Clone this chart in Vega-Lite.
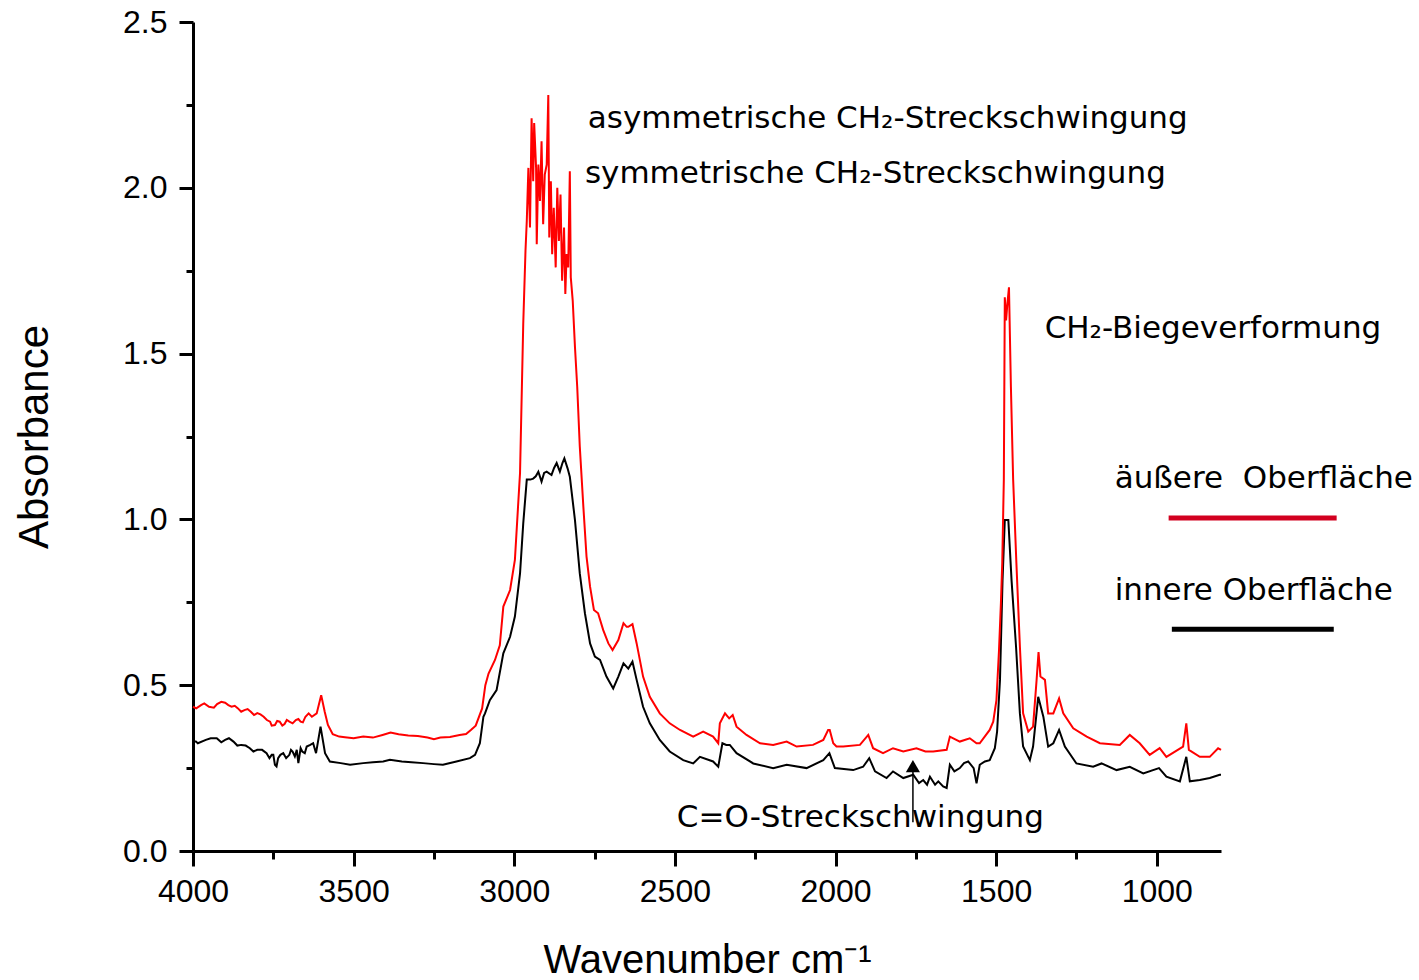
{
  "$schema": "https://vega.github.io/schema/vega-lite/v6.json",
  "autosize": "none",
  "padding": {"left": 193, "top": 22, "right": 198, "bottom": 129},
  "width": 1028,
  "height": 829,
  "background": "white",
  "config": {"view": {"stroke": null}},
  "datasets": {
    "spectra": [
      {"s":"inner","w":4000,"a":0.33},{"s":"inner","w":3991,"a":0.33},{"s":"inner","w":3960,"a":0.335},{"s":"inner","w":3926,"a":0.34},{"s":"inner","w":3900,"a":0.335},{"s":"inner","w":3874,"a":0.33},{"s":"inner","w":3850,"a":0.32},{"s":"inner","w":3823,"a":0.31},{"s":"inner","w":3800,"a":0.305},{"s":"inner","w":3771,"a":0.295},{"s":"inner","w":3755,"a":0.29},{"s":"inner","w":3745,"a":0.26},{"s":"inner","w":3735,"a":0.28},{"s":"inner","w":3719,"a":0.295},{"s":"inner","w":3700,"a":0.29},{"s":"inner","w":3690,"a":0.3},{"s":"inner","w":3677,"a":0.305},{"s":"inner","w":3672,"a":0.265},{"s":"inner","w":3660,"a":0.3},{"s":"inner","w":3646,"a":0.315},{"s":"inner","w":3626,"a":0.325},{"s":"inner","w":3617,"a":0.295},{"s":"inner","w":3603,"a":0.375},{"s":"inner","w":3589,"a":0.295},{"s":"inner","w":3574,"a":0.27},{"s":"inner","w":3540,"a":0.265},{"s":"inner","w":3511,"a":0.26},{"s":"inner","w":3470,"a":0.265},{"s":"inner","w":3440,"a":0.268},{"s":"inner","w":3408,"a":0.27},{"s":"inner","w":3387,"a":0.275},{"s":"inner","w":3350,"a":0.27},{"s":"inner","w":3320,"a":0.268},{"s":"inner","w":3284,"a":0.265},{"s":"inner","w":3250,"a":0.262},{"s":"inner","w":3222,"a":0.26},{"s":"inner","w":3180,"a":0.27},{"s":"inner","w":3138,"a":0.28},{"s":"inner","w":3122,"a":0.29},{"s":"inner","w":3107,"a":0.325},{"s":"inner","w":3096,"a":0.405},{"s":"inner","w":3091,"a":0.415},{"s":"inner","w":3076,"a":0.455},{"s":"inner","w":3055,"a":0.485},{"s":"inner","w":3034,"a":0.596},{"s":"inner","w":3013,"a":0.646},{"s":"inner","w":2998,"a":0.707},{"s":"inner","w":2982,"a":0.837},{"s":"inner","w":2972,"a":0.988},{"s":"inner","w":2961,"a":1.12},{"s":"inner","w":2950,"a":1.12},{"s":"inner","w":2941,"a":1.123},{"s":"inner","w":2933,"a":1.13},{"s":"inner","w":2925,"a":1.144},{"s":"inner","w":2915,"a":1.114},{"s":"inner","w":2907,"a":1.14},{"s":"inner","w":2899,"a":1.144},{"s":"inner","w":2884,"a":1.134},{"s":"inner","w":2876,"a":1.155},{"s":"inner","w":2868,"a":1.17},{"s":"inner","w":2858,"a":1.144},{"s":"inner","w":2850,"a":1.17},{"s":"inner","w":2844,"a":1.184},{"s":"inner","w":2834,"a":1.154},{"s":"inner","w":2827,"a":1.129},{"s":"inner","w":2811,"a":0.998},{"s":"inner","w":2796,"a":0.837},{"s":"inner","w":2780,"a":0.717},{"s":"inner","w":2764,"a":0.626},{"s":"inner","w":2749,"a":0.586},{"s":"inner","w":2733,"a":0.576},{"s":"inner","w":2713,"a":0.526},{"s":"inner","w":2692,"a":0.49},{"s":"inner","w":2676,"a":0.526},{"s":"inner","w":2660,"a":0.566},{"s":"inner","w":2645,"a":0.55},{"s":"inner","w":2632,"a":0.571},{"s":"inner","w":2619,"a":0.516},{"s":"inner","w":2599,"a":0.435},{"s":"inner","w":2578,"a":0.385},{"s":"inner","w":2547,"a":0.335},{"s":"inner","w":2516,"a":0.3},{"s":"inner","w":2474,"a":0.274},{"s":"inner","w":2443,"a":0.264},{"s":"inner","w":2422,"a":0.284},{"s":"inner","w":2381,"a":0.27},{"s":"inner","w":2365,"a":0.254},{"s":"inner","w":2352,"a":0.325},{"s":"inner","w":2340,"a":0.32},{"s":"inner","w":2329,"a":0.32},{"s":"inner","w":2308,"a":0.295},{"s":"inner","w":2256,"a":0.264},{"s":"inner","w":2194,"a":0.25},{"s":"inner","w":2152,"a":0.26},{"s":"inner","w":2090,"a":0.25},{"s":"inner","w":2038,"a":0.274},{"s":"inner","w":2019,"a":0.295},{"s":"inner","w":2002,"a":0.25},{"s":"inner","w":1945,"a":0.244},{"s":"inner","w":1914,"a":0.254},{"s":"inner","w":1895,"a":0.28},{"s":"inner","w":1877,"a":0.24},{"s":"inner","w":1841,"a":0.22},{"s":"inner","w":1821,"a":0.24},{"s":"inner","w":1789,"a":0.22},{"s":"inner","w":1758,"a":0.23},{"s":"inner","w":1740,"a":0.205},{"s":"inner","w":1727,"a":0.214},{"s":"inner","w":1715,"a":0.2},{"s":"inner","w":1706,"a":0.224},{"s":"inner","w":1690,"a":0.2},{"s":"inner","w":1680,"a":0.21},{"s":"inner","w":1665,"a":0.195},{"s":"inner","w":1654,"a":0.19},{"s":"inner","w":1644,"a":0.26},{"s":"inner","w":1630,"a":0.24},{"s":"inner","w":1613,"a":0.25},{"s":"inner","w":1600,"a":0.265},{"s":"inner","w":1587,"a":0.27},{"s":"inner","w":1570,"a":0.25},{"s":"inner","w":1561,"a":0.204},{"s":"inner","w":1551,"a":0.26},{"s":"inner","w":1535,"a":0.27},{"s":"inner","w":1520,"a":0.274},{"s":"inner","w":1504,"a":0.31},{"s":"inner","w":1497,"a":0.36},{"s":"inner","w":1488,"a":0.516},{"s":"inner","w":1480,"a":0.817},{"s":"inner","w":1473,"a":0.998},{"s":"inner","w":1462,"a":0.998},{"s":"inner","w":1452,"a":0.817},{"s":"inner","w":1438,"a":0.616},{"s":"inner","w":1426,"a":0.415},{"s":"inner","w":1416,"a":0.315},{"s":"inner","w":1395,"a":0.274},{"s":"inner","w":1385,"a":0.315},{"s":"inner","w":1369,"a":0.465},{"s":"inner","w":1353,"a":0.405},{"s":"inner","w":1338,"a":0.315},{"s":"inner","w":1322,"a":0.325},{"s":"inner","w":1304,"a":0.365},{"s":"inner","w":1286,"a":0.315},{"s":"inner","w":1250,"a":0.264},{"s":"inner","w":1198,"a":0.254},{"s":"inner","w":1172,"a":0.264},{"s":"inner","w":1125,"a":0.244},{"s":"inner","w":1084,"a":0.254},{"s":"inner","w":1042,"a":0.234},{"s":"inner","w":993,"a":0.25},{"s":"inner","w":970,"a":0.224},{"s":"inner","w":928,"a":0.21},{"s":"inner","w":908,"a":0.284},{"s":"inner","w":897,"a":0.21},{"s":"inner","w":866,"a":0.214},{"s":"inner","w":835,"a":0.22},{"s":"inner","w":804,"a":0.23},{"s":"inner","w":800,"a":0.23},
      {"s":"inner","w":3985,"a":0.325},{"s":"inner","w":3945,"a":0.34},{"s":"inner","w":3912,"a":0.328},{"s":"inner","w":3888,"a":0.34},{"s":"inner","w":3862,"a":0.318},{"s":"inner","w":3836,"a":0.318},{"s":"inner","w":3812,"a":0.3},{"s":"inner","w":3785,"a":0.305},{"s":"inner","w":3762,"a":0.28},{"s":"inner","w":3750,"a":0.29},{"s":"inner","w":3740,"a":0.255},{"s":"inner","w":3728,"a":0.29},{"s":"inner","w":3710,"a":0.28},{"s":"inner","w":3695,"a":0.305},{"s":"inner","w":3683,"a":0.285},{"s":"inner","w":3665,"a":0.31},{"s":"inner","w":3652,"a":0.295},{"s":"inner","w":3635,"a":0.32},
      {"s":"outer","w":4000,"a":0.435},{"s":"outer","w":3975,"a":0.44},{"s":"outer","w":3950,"a":0.435},{"s":"outer","w":3925,"a":0.443},{"s":"outer","w":3900,"a":0.447},{"s":"outer","w":3880,"a":0.435},{"s":"outer","w":3860,"a":0.43},{"s":"outer","w":3840,"a":0.425},{"s":"outer","w":3820,"a":0.42},{"s":"outer","w":3800,"a":0.416},{"s":"outer","w":3780,"a":0.405},{"s":"outer","w":3760,"a":0.39},{"s":"outer","w":3745,"a":0.38},{"s":"outer","w":3730,"a":0.39},{"s":"outer","w":3715,"a":0.383},{"s":"outer","w":3700,"a":0.39},{"s":"outer","w":3680,"a":0.395},{"s":"outer","w":3665,"a":0.39},{"s":"outer","w":3650,"a":0.405},{"s":"outer","w":3640,"a":0.415},{"s":"outer","w":3630,"a":0.405},{"s":"outer","w":3615,"a":0.415},{"s":"outer","w":3601,"a":0.47},{"s":"outer","w":3590,"a":0.42},{"s":"outer","w":3580,"a":0.38},{"s":"outer","w":3565,"a":0.352},{"s":"outer","w":3545,"a":0.345},{"s":"outer","w":3527,"a":0.343},{"s":"outer","w":3500,"a":0.34},{"s":"outer","w":3470,"a":0.345},{"s":"outer","w":3440,"a":0.342},{"s":"outer","w":3410,"a":0.35},{"s":"outer","w":3385,"a":0.357},{"s":"outer","w":3360,"a":0.352},{"s":"outer","w":3330,"a":0.348},{"s":"outer","w":3300,"a":0.347},{"s":"outer","w":3270,"a":0.342},{"s":"outer","w":3250,"a":0.337},{"s":"outer","w":3230,"a":0.342},{"s":"outer","w":3200,"a":0.344},{"s":"outer","w":3170,"a":0.35},{"s":"outer","w":3150,"a":0.353},{"s":"outer","w":3135,"a":0.365},{"s":"outer","w":3120,"a":0.378},{"s":"outer","w":3100,"a":0.43},{"s":"outer","w":3090,"a":0.5},{"s":"outer","w":3080,"a":0.535},{"s":"outer","w":3060,"a":0.576},{"s":"outer","w":3045,"a":0.62},{"s":"outer","w":3034,"a":0.737},{"s":"outer","w":3020,"a":0.77},{"s":"outer","w":3013,"a":0.787},{"s":"outer","w":2998,"a":0.878},{"s":"outer","w":2982,"a":1.14},{"s":"outer","w":2972,"a":1.59},{"s":"outer","w":2965,"a":1.81},{"s":"outer","w":2961,"a":1.9},{"s":"outer","w":2956,"a":2.06},{"s":"outer","w":2951,"a":1.88},{"s":"outer","w":2946,"a":2.21},{"s":"outer","w":2941,"a":2.02},{"s":"outer","w":2938,"a":2.195},{"s":"outer","w":2932,"a":2.06},{"s":"outer","w":2930,"a":1.83},{"s":"outer","w":2925,"a":2.07},{"s":"outer","w":2920,"a":1.96},{"s":"outer","w":2915,"a":2.14},{"s":"outer","w":2910,"a":1.89},{"s":"outer","w":2905,"a":2.04},{"s":"outer","w":2899,"a":2.07},{"s":"outer","w":2894,"a":2.28},{"s":"outer","w":2891,"a":1.85},{"s":"outer","w":2886,"a":2.02},{"s":"outer","w":2882,"a":1.8},{"s":"outer","w":2877,"a":1.94},{"s":"outer","w":2871,"a":1.76},{"s":"outer","w":2866,"a":2.0},{"s":"outer","w":2861,"a":1.84},{"s":"outer","w":2856,"a":1.98},{"s":"outer","w":2851,"a":1.72},{"s":"outer","w":2845,"a":1.88},{"s":"outer","w":2841,"a":1.68},{"s":"outer","w":2837,"a":1.8},{"s":"outer","w":2832,"a":1.76},{"s":"outer","w":2827,"a":2.05},{"s":"outer","w":2824,"a":1.73},{"s":"outer","w":2818,"a":1.66},{"s":"outer","w":2811,"a":1.52},{"s":"outer","w":2804,"a":1.4},{"s":"outer","w":2796,"a":1.22},{"s":"outer","w":2785,"a":1.04},{"s":"outer","w":2775,"a":0.888},{"s":"outer","w":2764,"a":0.797},{"s":"outer","w":2752,"a":0.727},{"s":"outer","w":2739,"a":0.717},{"s":"outer","w":2723,"a":0.666},{"s":"outer","w":2707,"a":0.626},{"s":"outer","w":2694,"a":0.606},{"s":"outer","w":2676,"a":0.636},{"s":"outer","w":2660,"a":0.687},{"s":"outer","w":2650,"a":0.676},{"s":"outer","w":2645,"a":0.676},{"s":"outer","w":2632,"a":0.684},{"s":"outer","w":2619,"a":0.626},{"s":"outer","w":2599,"a":0.526},{"s":"outer","w":2578,"a":0.465},{"s":"outer","w":2547,"a":0.415},{"s":"outer","w":2516,"a":0.385},{"s":"outer","w":2484,"a":0.365},{"s":"outer","w":2443,"a":0.345},{"s":"outer","w":2412,"a":0.36},{"s":"outer","w":2381,"a":0.345},{"s":"outer","w":2365,"a":0.325},{"s":"outer","w":2360,"a":0.385},{"s":"outer","w":2344,"a":0.415},{"s":"outer","w":2331,"a":0.4},{"s":"outer","w":2320,"a":0.41},{"s":"outer","w":2308,"a":0.375},{"s":"outer","w":2277,"a":0.35},{"s":"outer","w":2235,"a":0.325},{"s":"outer","w":2194,"a":0.32},{"s":"outer","w":2152,"a":0.33},{"s":"outer","w":2121,"a":0.315},{"s":"outer","w":2070,"a":0.32},{"s":"outer","w":2038,"a":0.335},{"s":"outer","w":2023,"a":0.365},{"s":"outer","w":2018,"a":0.365},{"s":"outer","w":2007,"a":0.325},{"s":"outer","w":1997,"a":0.315},{"s":"outer","w":1976,"a":0.315},{"s":"outer","w":1924,"a":0.32},{"s":"outer","w":1898,"a":0.35},{"s":"outer","w":1883,"a":0.31},{"s":"outer","w":1852,"a":0.295},{"s":"outer","w":1821,"a":0.31},{"s":"outer","w":1789,"a":0.3},{"s":"outer","w":1748,"a":0.31},{"s":"outer","w":1720,"a":0.3},{"s":"outer","w":1696,"a":0.3},{"s":"outer","w":1654,"a":0.305},{"s":"outer","w":1644,"a":0.345},{"s":"outer","w":1613,"a":0.33},{"s":"outer","w":1582,"a":0.34},{"s":"outer","w":1561,"a":0.325},{"s":"outer","w":1551,"a":0.325},{"s":"outer","w":1520,"a":0.365},{"s":"outer","w":1509,"a":0.39},{"s":"outer","w":1499,"a":0.455},{"s":"outer","w":1491,"a":0.606},{"s":"outer","w":1485,"a":0.75},{"s":"outer","w":1481,"a":0.867},{"s":"outer","w":1476,"a":1.12},{"s":"outer","w":1473,"a":1.67},{"s":"outer","w":1469,"a":1.6},{"s":"outer","w":1465,"a":1.65},{"s":"outer","w":1460,"a":1.7},{"s":"outer","w":1454,"a":1.4},{"s":"outer","w":1447,"a":1.12},{"s":"outer","w":1437,"a":0.87},{"s":"outer","w":1426,"a":0.616},{"s":"outer","w":1416,"a":0.415},{"s":"outer","w":1400,"a":0.36},{"s":"outer","w":1385,"a":0.375},{"s":"outer","w":1374,"a":0.516},{"s":"outer","w":1368,"a":0.6},{"s":"outer","w":1362,"a":0.526},{"s":"outer","w":1348,"a":0.516},{"s":"outer","w":1338,"a":0.415},{"s":"outer","w":1322,"a":0.415},{"s":"outer","w":1304,"a":0.46},{"s":"outer","w":1291,"a":0.415},{"s":"outer","w":1260,"a":0.37},{"s":"outer","w":1218,"a":0.345},{"s":"outer","w":1177,"a":0.325},{"s":"outer","w":1115,"a":0.32},{"s":"outer","w":1084,"a":0.35},{"s":"outer","w":1053,"a":0.325},{"s":"outer","w":1022,"a":0.29},{"s":"outer","w":991,"a":0.31},{"s":"outer","w":970,"a":0.284},{"s":"outer","w":918,"a":0.315},{"s":"outer","w":908,"a":0.385},{"s":"outer","w":900,"a":0.305},{"s":"outer","w":866,"a":0.284},{"s":"outer","w":835,"a":0.284},{"s":"outer","w":809,"a":0.31},{"s":"outer","w":800,"a":0.305},
      {"s":"outer","w":3990,"a":0.43},{"s":"outer","w":3965,"a":0.445},{"s":"outer","w":3935,"a":0.432},{"s":"outer","w":3912,"a":0.45},{"s":"outer","w":3890,"a":0.44},{"s":"outer","w":3870,"a":0.438},{"s":"outer","w":3850,"a":0.42},{"s":"outer","w":3830,"a":0.428},{"s":"outer","w":3810,"a":0.41},{"s":"outer","w":3790,"a":0.412},{"s":"outer","w":3770,"a":0.395},{"s":"outer","w":3755,"a":0.378},{"s":"outer","w":3738,"a":0.392},{"s":"outer","w":3722,"a":0.378},{"s":"outer","w":3708,"a":0.395},{"s":"outer","w":3690,"a":0.385},{"s":"outer","w":3672,"a":0.398},{"s":"outer","w":3658,"a":0.388}
    ],
    "notes": [
      {"t":"asymmetrische CH₂-Streckschwingung","w":2771,"a":2.18},
      {"t":"symmetrische CH₂-Streckschwingung","w":2780,"a":2.014},
      {"t":"CH₂-Biegeverformung","w":1349,"a":1.547},
      {"t":"äußere\u00a0\u00a0Oberfläche","w":1131,"a":1.095},
      {"t":"innere Oberfläche","w":1131,"a":0.757},
      {"t":"C=O-Streckschwingung","w":2494,"a":0.072}
    ],
    "keys": [
      {"k":"outer","w":963,"w2":440,"a":1.004},
      {"k":"inner","w":953,"w2":449,"a":0.669}
    ],
    "arrow": [
      {"w":1759,"a":0.087,"a2":0.244}
    ],
    "arrowhead": [
      {"w":1759,"a":0.256}
    ]
  },
  "layer": [
    {
      "data": {"name": "spectra"},
      "mark": {"type": "line", "strokeWidth": 2},
      "encoding": {
        "x": {
          "field": "w", "type": "quantitative",
          "scale": {"domain": [4000, 800], "nice": false, "zero": false},
          "axis": {
            "values": [4000, 3750, 3500, 3250, 3000, 2750, 2500, 2250, 2000, 1750, 1500, 1250, 1000],
            "format": "d",
            "labelExpr": "datum.value % 500 == 0 ? datum.label : ''",
            "labelFlush": false,
            "labelOverlap": false,
            "tickSize": {"condition": {"test": "datum.value % 500 == 0", "value": 15}, "value": 8},
            "labelPadding": 10,
            "grid": false,
            "domainColor": "black", "domainWidth": 3,
            "tickColor": "black", "tickWidth": 3,
            "labelFont": "Liberation Sans", "labelFontSize": 32, "labelColor": "black",
            "title": "Wavenumber cm⁻¹",
            "titleFont": "Liberation Sans", "titleFontSize": 40, "titleFontWeight": "normal", "titleColor": "black",
            "titleBaseline": "alphabetic", "titleY": 121
          }
        },
        "y": {
          "field": "a", "type": "quantitative",
          "scale": {"domain": [0, 2.5], "nice": false},
          "axis": {
            "values": [0, 0.25, 0.5, 0.75, 1, 1.25, 1.5, 1.75, 2, 2.25, 2.5],
            "format": ".1f",
            "labelExpr": "datum.value % 0.5 == 0 ? datum.label : ''",
            "labelFlush": false,
            "labelOverlap": false,
            "tickSize": {"condition": {"test": "datum.value % 0.5 == 0", "value": 14}, "value": 7},
            "labelPadding": 12,
            "grid": false,
            "domainColor": "black", "domainWidth": 3,
            "tickColor": "black", "tickWidth": 3,
            "labelFont": "Liberation Sans", "labelFontSize": 32, "labelColor": "black",
            "title": "Absorbance",
            "titleFont": "Liberation Sans", "titleFontSize": 42, "titleFontWeight": "normal", "titleColor": "black",
            "titleBaseline": "alphabetic", "titleX": -146
          }
        },
        "color": {
          "field": "s", "type": "nominal",
          "scale": {"domain": ["inner", "outer"], "range": ["#000000", "#ff0000"]},
          "legend": null
        }
      }
    },
    {
      "data": {"name": "keys"},
      "transform": [{"filter": "datum.k == 'outer'"}],
      "mark": {"type": "rule", "color": "#d2001f", "strokeWidth": 5},
      "encoding": {
        "x": {"field": "w", "type": "quantitative"},
        "x2": {"field": "w2"},
        "y": {"field": "a", "type": "quantitative"}
      }
    },
    {
      "data": {"name": "keys"},
      "transform": [{"filter": "datum.k == 'inner'"}],
      "mark": {"type": "rule", "color": "#000000", "strokeWidth": 5},
      "encoding": {
        "x": {"field": "w", "type": "quantitative"},
        "x2": {"field": "w2"},
        "y": {"field": "a", "type": "quantitative"}
      }
    },
    {
      "data": {"name": "notes"},
      "mark": {"type": "text", "align": "left", "baseline": "alphabetic", "font": "DejaVu Sans", "fontSize": 31, "color": "black"},
      "encoding": {
        "x": {"field": "w", "type": "quantitative"},
        "y": {"field": "a", "type": "quantitative"},
        "text": {"field": "t"}
      }
    },
    {
      "data": {"name": "arrow"},
      "mark": {"type": "rule", "color": "black", "strokeWidth": 1.5},
      "encoding": {
        "x": {"field": "w", "type": "quantitative"},
        "y": {"field": "a", "type": "quantitative"},
        "y2": {"field": "a2"}
      }
    },
    {
      "data": {"name": "arrowhead"},
      "mark": {"type": "point", "shape": "triangle-up", "filled": true, "color": "black", "size": 200, "opacity": 1},
      "encoding": {
        "x": {"field": "w", "type": "quantitative"},
        "y": {"field": "a", "type": "quantitative"}
      }
    }
  ]
}
